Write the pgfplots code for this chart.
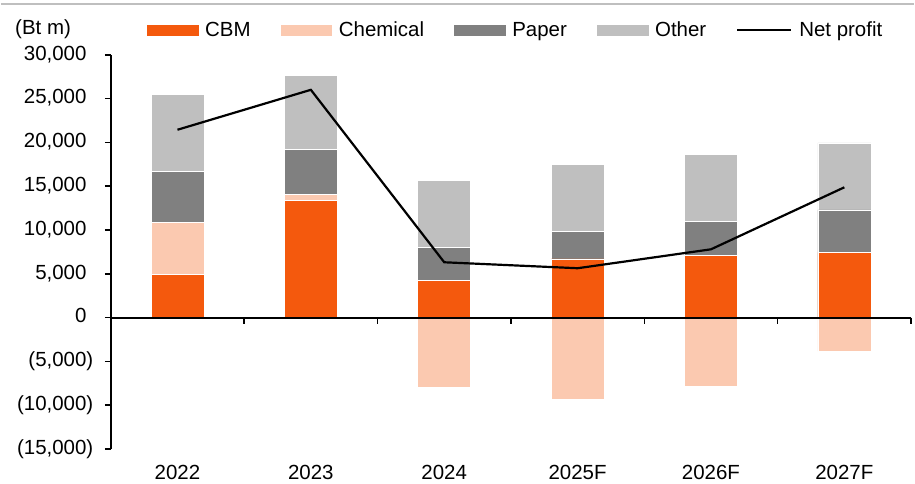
\documentclass[border=0pt]{standalone}
\usepackage{fontspec}
\setmainfont{Liberation Sans}
\usepackage{pgfplots}
\pgfplotsset{compat=1.18}
\definecolor{cbm}{HTML}{F4590D}
\definecolor{chem}{HTML}{FBC9B0}
\definecolor{paper}{HTML}{808080}
\definecolor{other}{HTML}{BFBFBF}

\begin{document}
\begin{tikzpicture}[font=\fontsize{20.5}{24}\selectfont]
\begin{axis}[
  scale only axis, width=802pt, height=395pt,
  xmin=-0.5, xmax=5.5, ymin=-15000, ymax=30000,
  axis y line*=left, axis x line*=bottom,
  axis line style={-},
  x axis line style={draw=none},
  y axis line style={line width=1.6pt, black},
  xtick={0,...,5},
  xticklabels={2022,2023,2024,2025F,2026F,2027F},
  xtick style={draw=none},
  xticklabel style={yshift=-7pt},
  scaled y ticks=false,
  ytick={-15000,-10000,...,30000},
  yticklabels={{(15,000)},{(10,000)},{(5,000)},{0\phantom{)}},{5,000\phantom{)}},{10,000\phantom{)}},{15,000\phantom{)}},{20,000\phantom{)}},{25,000\phantom{)}},{30,000\phantom{)}}},
  yticklabel style={xshift=-8pt},
  ytick style={line width=1.5pt, black},
  tick align=outside, major tick length=6pt,
  clip=false,
  legend columns=5,
  legend style={draw=none, fill=none, inner sep=0pt,
    at={(axis description cs:0.0449,1.0633)}, anchor=west,
    /tikz/every even column/.append style={column sep=28pt},
    /tikz/every odd column/.append style={column sep=5pt}},
]
\addlegendimage{legend image code/.code={\fill[cbm] (0pt,-5pt) rectangle (51pt,5pt);}}
\addlegendentry{CBM}
\addlegendimage{legend image code/.code={\fill[chem] (0pt,-5pt) rectangle (51pt,5pt);}}
\addlegendentry{Chemical}
\addlegendimage{legend image code/.code={\fill[paper] (0pt,-5pt) rectangle (51pt,5pt);}}
\addlegendentry{Paper}
\addlegendimage{legend image code/.code={\fill[other] (0pt,-5pt) rectangle (51pt,5pt);}}
\addlegendentry{Other}
\addlegendimage{legend image code/.code={\draw[black, line width=2.2pt] (0pt,0pt) -- (54pt,0pt);}}
\addlegendentry{Net profit}

% cumulative tops of stacked segments (Other top, Paper top, Chemical, CBM)
\addplot[ybar, bar width=53pt, bar shift=0pt, fill=other, draw=white, line width=0.6pt, forget plot]
  coordinates {(0,25520) (1,27640) (2,15660) (3,17480) (4,18600) (5,19960)};
\addplot[ybar, bar width=53pt, bar shift=0pt, fill=paper, draw=white, line width=0.6pt, forget plot]
  coordinates {(0,16660) (1,19240) (2,7990) (3,9830) (4,10960) (5,12290)};
\addplot[ybar, bar width=53pt, bar shift=0pt, fill=chem, draw=white, line width=0.6pt, forget plot]
  coordinates {(0,10870) (1,14030) (2,-7990) (3,-9360) (4,-7870) (5,-3850)};
\addplot[ybar, bar width=53pt, bar shift=0pt, fill=cbm, draw=white, line width=0.6pt, forget plot]
  coordinates {(0,4940) (1,13380) (2,4270) (3,6700) (4,7120) (5,7460)};
\addplot[sharp plot, black, line width=2.2pt, mark=none, forget plot]
  coordinates {(0,21450) (1,26010) (2,6320) (3,5640) (4,7800) (5,14880)};

\draw[black, line width=1.8pt] (axis cs:-0.5,0) -- (axis cs:5.5,0);
\pgfplotsinvokeforeach{0.5,1.5,2.5,3.5,4.5,5.5}{
  \draw[black, line width=1.5pt] (axis cs:#1,0) -- ++(0pt,-6pt);
}
\node[anchor=west, inner sep=0pt] at (axis description cs:-0.1197,1.0658) {(Bt m)};
\draw[other, line width=2pt] (axis description cs:-0.1372,1.1291) -- (axis description cs:1.0037,1.1291);
\path (axis description cs:-0.1372,-0.0886) rectangle (axis description cs:1.0037,1.1392);
\end{axis}
\end{tikzpicture}
\end{document}
